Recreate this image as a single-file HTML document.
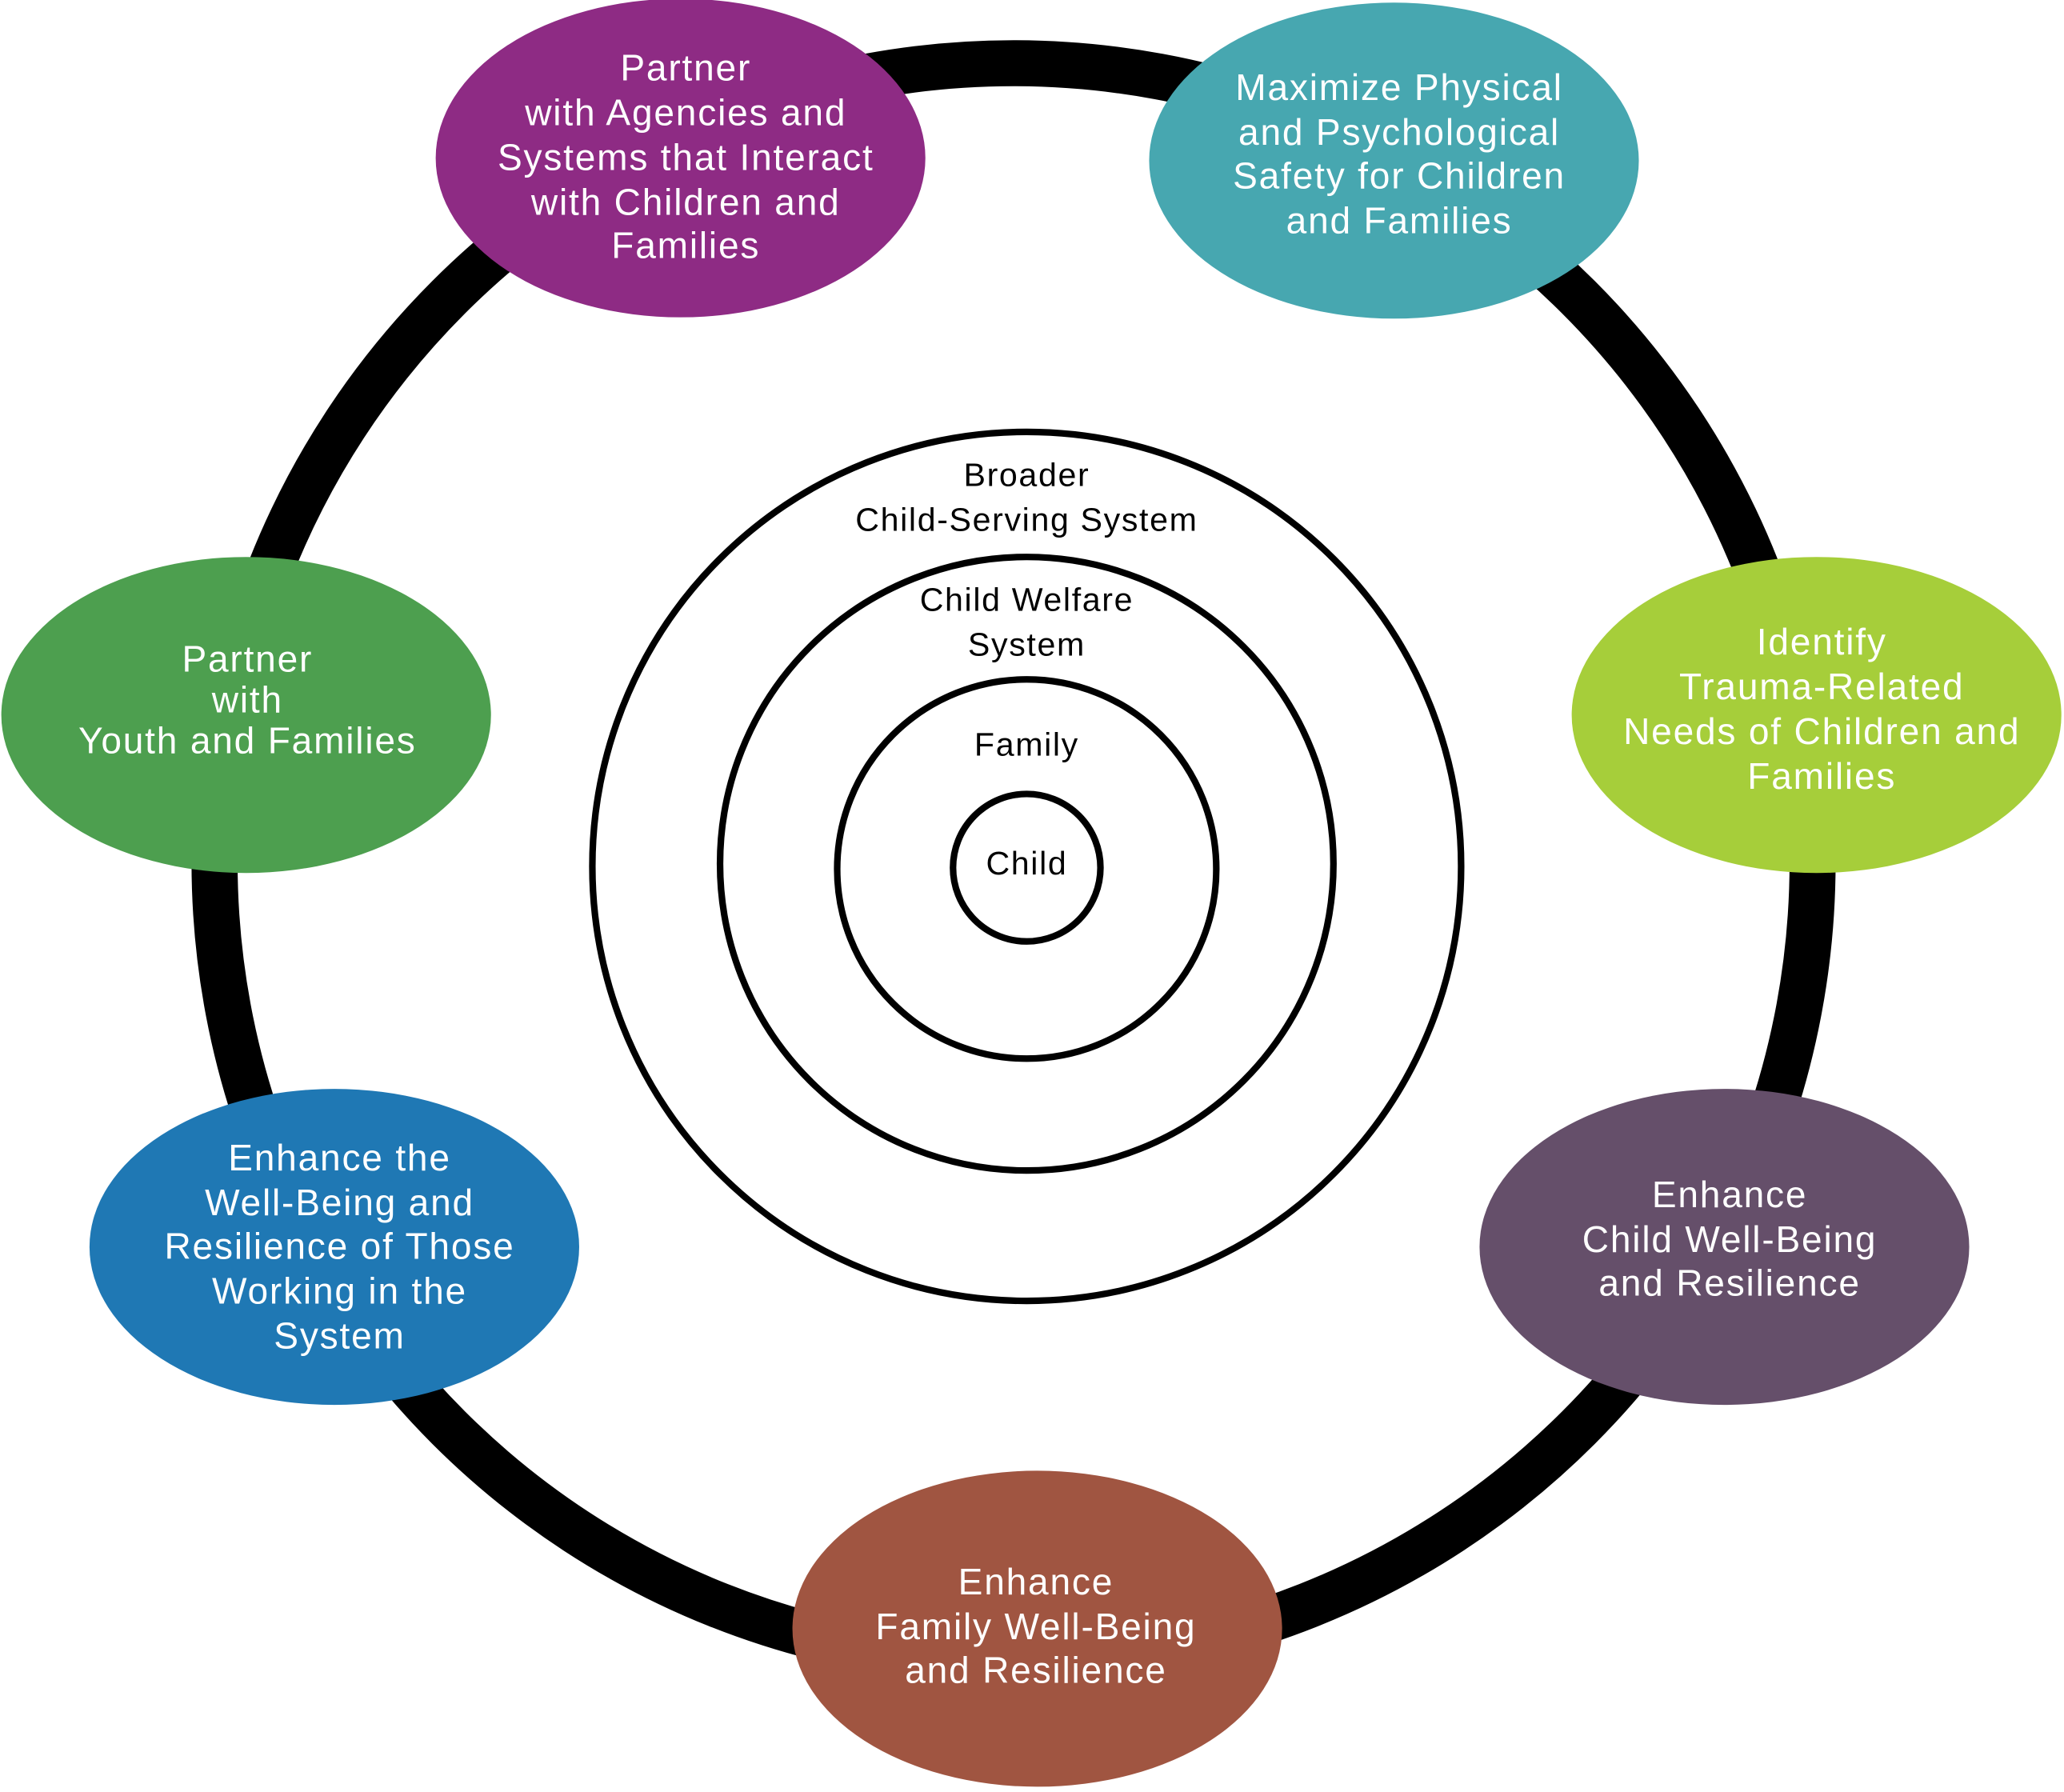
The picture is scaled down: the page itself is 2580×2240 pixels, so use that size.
<!DOCTYPE html>
<html><head><meta charset="utf-8"><style>html,body{margin:0;padding:0;background:#fff}svg{display:block}</style></head>
<body>
<svg width="2580" height="2240" viewBox="0 0 1568 1361" preserveAspectRatio="none" xmlns="http://www.w3.org/2000/svg" font-family="Liberation Sans, Arial, sans-serif">
<rect width="1568" height="1361" fill="#fff"/>
<circle cx="770" cy="655" r="607" fill="none" stroke="#000" stroke-width="35"/>
<g fill="none" stroke="#000" stroke-width="5">
<circle cx="780" cy="658" r="330"/>
<circle cx="780" cy="656" r="233"/>
<circle cx="780" cy="660" r="144"/>
<circle cx="780" cy="659" r="56"/>
</g>
<g font-size="25" letter-spacing="1" text-anchor="middle" fill="#000">
<text x="780" y="369">Broader</text>
<text x="780" y="403">Child-Serving System</text>
<text x="780" y="464">Child Welfare</text>
<text x="780" y="498">System</text>
<text x="780" y="574">Family</text>
<text x="780" y="664">Child</text>
</g>
<ellipse cx="517" cy="120" rx="186" ry="121" fill="#8e2b84"/>
<ellipse cx="1059" cy="122" rx="186" ry="120" fill="#47a7b0"/>
<ellipse cx="1380" cy="543" rx="186" ry="120" fill="#a6ce3a"/>
<ellipse cx="187" cy="543" rx="186" ry="120" fill="#4d9f4f"/>
<ellipse cx="254" cy="947" rx="186" ry="120" fill="#1f78b4"/>
<ellipse cx="1310" cy="947" rx="186" ry="120" fill="#654f6a"/>
<ellipse cx="788" cy="1237" rx="186" ry="120" fill="#a05541"/>
<g font-size="28" letter-spacing="1.1" text-anchor="middle" fill="#fff">
<text x="521" y="61">Partner</text>
<text x="521" y="95">with Agencies and</text>
<text x="521" y="129">Systems that Interact</text>
<text x="521" y="163">with Children and</text>
<text x="521" y="196">Families</text>
<text x="1063" y="76">Maximize Physical</text>
<text x="1063" y="110">and Psychological</text>
<text x="1063" y="143">Safety for Children</text>
<text x="1063" y="177">and Families</text>
<text x="1384" y="497">Identify</text>
<text x="1384" y="531">Trauma-Related</text>
<text x="1384" y="565">Needs of Children and</text>
<text x="1384" y="599">Families</text>
<text x="188" y="510">Partner</text>
<text x="188" y="541">with</text>
<text x="188" y="572">Youth and Families</text>
<text x="258" y="889">Enhance the</text>
<text x="258" y="923">Well-Being and</text>
<text x="258" y="956">Resilience of Those</text>
<text x="258" y="990">Working in the</text>
<text x="258" y="1024">System</text>
<text x="1314" y="917">Enhance</text>
<text x="1314" y="951">Child Well-Being</text>
<text x="1314" y="984">and Resilience</text>
<text x="787" y="1211">Enhance</text>
<text x="787" y="1245">Family Well-Being</text>
<text x="787" y="1278">and Resilience</text>
</g>
</svg>
</body></html>
